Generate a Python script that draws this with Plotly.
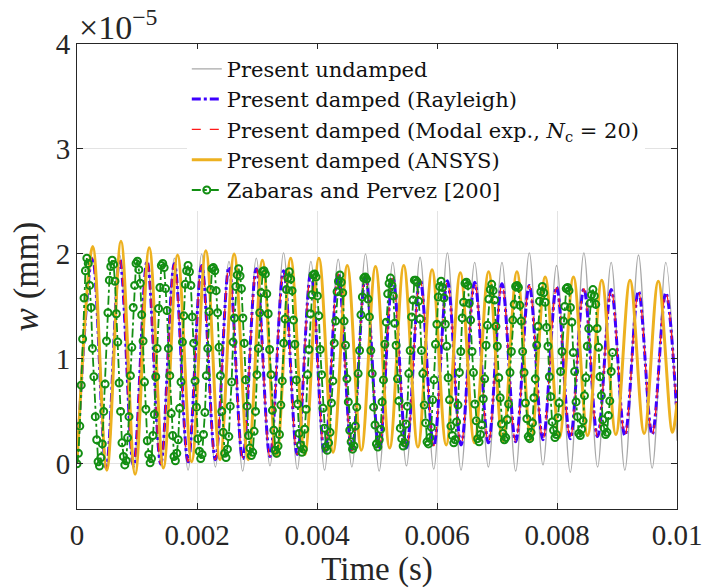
import plotly.graph_objects as go

# ---------------- data (w in units of 1e-5 mm, time in ms) ----------------
# extrema of the undamped / damped (same natural frequency) responses
t_ext_ms = [0, 0.258, 0.486, 0.713, 0.941, 1.168, 1.396, 1.623, 1.851, 2.078, 2.306,
            2.533, 2.761, 2.988, 3.216, 3.443, 3.671, 3.898, 4.126, 4.353, 4.581,
            4.808, 5.036, 5.263, 5.491, 5.718, 5.946, 6.173, 6.401, 6.628, 6.856,
            7.083, 7.311, 7.538, 7.766, 7.993, 8.221, 8.448, 8.676, 8.903, 9.131,
            9.358, 9.586, 9.813, 10.0]

w_undamped = [0, 1.97, -0.05, 1.99, -0.05, 1.94, -0.02, 1.96, -0.06, 2.00, -0.03,
              1.93, -0.07, 1.96, -0.02, 2.01, -0.05, 1.93, -0.06, 1.95, -0.03,
              2.00, -0.07, 1.92, -0.02, 1.97, -0.05, 2.01, -0.06, 1.92, -0.03,
              1.92, -0.07, 2.01, -0.01, 1.89, -0.08, 2.01, -0.03, 1.92, -0.06,
              1.99, -0.04, 1.92, 0.22]

w_rayleigh = [0, 1.97, -0.04, 1.95, -0.02, 1.93, 0.00, 1.91, 0.02, 1.89, 0.04,
              1.875, 0.05, 1.86, 0.07, 1.84, 0.09, 1.82, 0.10, 1.81, 0.12,
              1.79, 0.14, 1.775, 0.15, 1.76, 0.17, 1.745, 0.18, 1.73, 0.20,
              1.715, 0.21, 1.70, 0.23, 1.685, 0.24, 1.67, 0.26, 1.66, 0.27,
              1.645, 0.28, 1.63, 0.45]

w_modal = [0, 1.97, -0.04, 1.95, -0.02, 1.93, 0.00, 1.90, 0.02, 1.89, 0.04,
           1.87, 0.06, 1.86, 0.07, 1.84, 0.09, 1.82, 0.11, 1.81, 0.12,
           1.79, 0.14, 1.77, 0.15, 1.76, 0.17, 1.74, 0.18, 1.73, 0.20,
           1.71, 0.21, 1.70, 0.23, 1.68, 0.24, 1.67, 0.26, 1.66, 0.27,
           1.64, 0.28, 1.63, 0.45]

# ANSYS response (slightly lower frequency)
t_ansys_ms = [0, 0.262, 0.497, 0.733, 0.969, 1.204, 1.440, 1.676, 1.911, 2.147, 2.383,
              2.619, 2.854, 3.090, 3.325, 3.561, 3.797, 4.032, 4.268, 4.504, 4.739,
              4.975, 5.211, 5.446, 5.682, 5.918, 6.153, 6.389, 6.624, 6.860, 7.096,
              7.332, 7.567, 7.803, 8.039, 8.274, 8.510, 8.746, 8.981, 9.217, 9.453,
              9.688, 9.924, 10.0]

w_ansys = [0, 2.07, -0.06, 2.12, -0.10, 2.06, -0.04, 1.99, 0.02, 2.03, 0.04,
           2.00, 0.04, 1.94, 0.07, 1.96, 0.09, 1.96, 0.11, 1.89, 0.13,
           1.88, 0.15, 1.89, 0.16, 1.85, 0.18, 1.82, 0.20, 1.83, 0.21,
           1.83, 0.23, 1.78, 0.25, 1.78, 0.27, 1.75, 0.28, 1.75, 0.29,
           1.74, 0.30, 0.58]

# Zabaras and Pervez [200]: samples every 0.02343 ms (first rise, then one row per cycle)
zabaras_dt_ms = 0.02343
zabaras_rise = [0.00, 0.10, 0.36, 0.75, 1.19, 1.58, 1.84]
zabaras_cycles = [
    [1.96, 1.91, 1.70, 1.49, 1.10, 0.83, 0.45, 0.23, 0.02, -0.02, 0.06, 0.19, 0.50, 0.76, 1.17, 1.44, 1.75, 1.88],
    [1.94, 1.90, 1.74, 1.43, 1.16, 0.77, 0.50, 0.20, 0.07, -0.01, 0.03, 0.25, 0.45, 0.84, 1.11, 1.49, 1.70, 1.91],
    [1.93, 1.85, 1.72, 1.42, 1.17, 0.78, 0.52, 0.22, 0.09, 0.01, 0.05, 0.27, 0.47, 0.83, 1.10, 1.48, 1.68, 1.89],
    [1.91, 1.87, 1.67, 1.46, 1.10, 0.84, 0.48, 0.27, 0.07, 0.03, 0.10, 0.23, 0.53, 0.78, 1.16, 1.41, 1.71, 1.84],
    [1.89, 1.83, 1.70, 1.40, 1.15, 0.79, 0.54, 0.24, 0.12, 0.05, 0.09, 0.28, 0.49, 0.84, 1.10, 1.45, 1.66, 1.86],
    [1.87, 1.84, 1.65, 1.44, 1.11, 0.84, 0.50, 0.30, 0.10, 0.06, 0.14, 0.26, 0.55, 0.78, 1.16, 1.39, 1.69, 1.80],
    [1.86, 1.79, 1.67, 1.39, 1.15, 0.80, 0.55, 0.27, 0.15, 0.08, 0.11, 0.31, 0.50, 0.85, 1.10, 1.44, 1.63, 1.83],
    [1.84, 1.81, 1.62, 1.43, 1.09, 0.85, 0.51, 0.32, 0.13, 0.10, 0.17, 0.28, 0.56, 0.79, 1.15, 1.38, 1.66, 1.77],
    [1.83, 1.76, 1.65, 1.37, 1.14, 0.80, 0.57, 0.29, 0.18, 0.11, 0.14, 0.33, 0.52, 0.85, 1.09, 1.43, 1.61, 1.80],
    [1.81, 1.78, 1.60, 1.41, 1.09, 0.85, 0.53, 0.34, 0.16, 0.13, 0.20, 0.30, 0.58, 0.79, 1.15, 1.36, 1.64, 1.74],
    [1.80, 1.73, 1.63, 1.36, 1.13, 0.81, 0.59, 0.32, 0.21, 0.14, 0.17, 0.36, 0.54, 0.86, 1.08, 1.42, 1.59, 1.77],
    [1.78, 1.76, 1.57, 1.40, 1.08, 0.86, 0.54, 0.37, 0.19, 0.16, 0.23, 0.33, 0.59, 0.80, 1.14, 1.35, 1.62, 1.72],
    [1.77, 1.70, 1.60, 1.34, 1.13, 0.81, 0.60, 0.34, 0.24, 0.17, 0.20, 0.38, 0.55, 0.86, 1.08, 1.40, 1.56, 1.75],
    [1.75, 1.73, 1.55, 1.38, 1.08, 0.86, 0.56, 0.39, 0.21, 0.19, 0.25, 0.35, 0.61, 0.80, 1.14, 1.33, 1.59, 1.69],
    [1.74, 1.68, 1.58, 1.33, 1.12, 0.82, 0.61, 0.36, 0.27, 0.20, 0.23, 0.40, 0.56, 0.87, 1.07, 1.39, 1.54, 1.72],
    [1.73, 1.70, 1.53, 1.37, 1.07, 0.87, 0.57, 0.41, 0.24, 0.21, 0.28, 0.37, 0.62, 0.81, 1.13, 1.32, 1.57, 1.66],
    [1.71, 1.65, 1.56, 1.31, 1.12, 0.82, 0.63, 0.38, 0.29, 0.23, 0.25, 0.42, 0.57, 0.87, 1.07, 1.37, 1.52, 1.69],
    [1.70, 1.68, 1.51, 1.36, 1.07, 0.87, 0.58, 0.43, 0.26, 0.24, 0.30, 0.39, 0.63, 0.81, 1.13, 1.31, 1.55, 1.64],
    [1.69, 1.63, 1.54, 1.30, 1.12, 0.83, 0.64, 0.40, 0.32, 0.25, 0.28, 0.44, 0.58, 0.88, 1.07, 1.36, 1.50, 1.67],
    [1.68, 1.65, 1.49, 1.35, 1.06, 0.88, 0.59, 0.45, 0.29, 0.27, 0.33, 0.41, 0.65, 0.82, 1.12, 1.29, 1.53, 1.61],
    [1.66, 1.60, 1.52, 1.29, 1.11, 0.83, 0.65, 0.42, 0.34, 0.28, 0.30, 0.46, 0.60, 0.88, 1.06],
]

x_tick_vals = [0, 0.002, 0.004, 0.006, 0.008, 0.01]
x_tick_text = ["0", "0.002", "0.004", "0.006", "0.008", "0.01"]
y_tick_vals = [0, 1, 2, 3, 4]
y_tick_text = ["0", "1", "2", "3", "4"]

series_names = ["Present undamped",
                "Present damped (Rayleigh)",
                "Present damped (Modal exp., <i>N</i><sub>c</sub> = 20)",
                "Present damped (ANSYS)",
                "Zabaras and Pervez [200]"]

# ---------------- figure ----------------
FONT = "Liberation Serif"
LEG_FONT = "DejaVu Serif"
t_ext = [v * 1e-3 for v in t_ext_ms]
t_ansys = [v * 1e-3 for v in t_ansys_ms]
w_zabaras = zabaras_rise + [v for row in zabaras_cycles for v in row]
t_zab = [i * zabaras_dt_ms * 1e-3 for i in range(len(w_zabaras))]

GREEN = "#138f13"
fig = go.Figure()
fig.add_trace(go.Scatter(x=t_ext, y=w_undamped, mode="lines", name=series_names[0],
                         line=dict(color="#a8a8a8", width=1.3, shape="spline")))
fig.add_trace(go.Scatter(x=t_ext, y=w_rayleigh, mode="lines", name=series_names[1],
                         line=dict(color="#3d00ff", width=3, dash="dashdot", shape="spline")))
fig.add_trace(go.Scatter(x=t_ext, y=w_modal, mode="lines", name=series_names[2],
                         line=dict(color="#ff1a1a", width=1.2, dash="dash", shape="spline")))
fig.add_trace(go.Scatter(x=t_ansys, y=w_ansys, mode="lines", name=series_names[3],
                         line=dict(color="#edb120", width=3, shape="spline")))
fig.add_trace(go.Scatter(x=t_zab, y=w_zabaras, mode="lines+markers", name=series_names[4],
                         line=dict(color=GREEN, width=1.8, dash="dashdot"),
                         marker=dict(symbol="circle-open", size=7, color=GREEN,
                                     line=dict(width=2, color=GREEN))))

axis_common = dict(showline=True, linecolor="#262626", linewidth=1, mirror="ticks",
                   ticks="inside", ticklen=6, tickcolor="#262626",
                   showgrid=True, gridcolor="#e3e3e3", gridwidth=1, zeroline=False,
                   ticklabeloverflow="allow", automargin=False,
                   tickfont=dict(family=FONT, size=29, color="#262626"))

fig.update_layout(
    width=702, height=588,
    margin=dict(l=77, r=25, t=44, b=79),
    paper_bgcolor="white", plot_bgcolor="white",
    font=dict(family=FONT, color="#262626"),
    xaxis=dict(range=[0, 0.01], tickvals=x_tick_vals, ticktext=x_tick_text,
               title=dict(text="Time (s)", font=dict(family=FONT, size=33), standoff=0),
               **axis_common),
    yaxis=dict(range=[-0.43, 4], tickvals=y_tick_vals, ticktext=y_tick_text,
               title=dict(text="<i>w</i> (mm)", font=dict(family=FONT, size=35), standoff=6),
               **axis_common),
    legend=dict(x=0.183, y=0.99, xanchor="left", yanchor="top",
                bgcolor="white", borderwidth=0,
                font=dict(family=LEG_FONT, size=21, color="#111111"),
                itemwidth=30, tracegroupgap=0),
    showlegend=True,
    annotations=[dict(text="×10<sup>−5</sup>", xref="paper", yref="paper",
                      x=0, y=1, xanchor="left", yanchor="bottom", yshift=-4,
                      showarrow=False,
                      font=dict(family=FONT, size=34, color="#262626"))],
)

fig.write_html("out.html")
